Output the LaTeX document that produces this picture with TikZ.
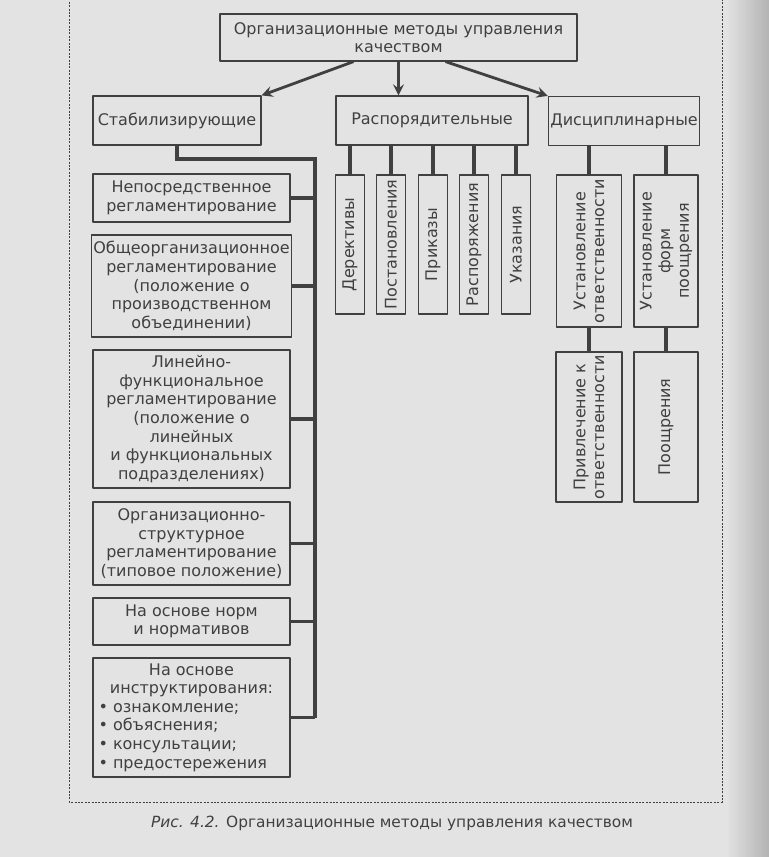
\documentclass[tikz,border=0pt]{standalone}
\usepackage{fontspec}
\setmainfont{DejaVu Sans}
\usetikzlibrary{calc,positioning}
\definecolor{paper}{gray}{0.89}
\definecolor{ink}{gray}{0.25}

\begin{document}
\begin{tikzpicture}[x=0.5pt, y=-0.5pt, font=\fontsize{8}{9.3}\selectfont, line join=round, >=stealth,
    box/.style={draw=ink, line width=0.6pt, text=ink, align=center, inner sep=1pt},
    lbox/.style={box, minimum width=98.5pt},
    vbox/.style={box, rotate=90},
    link/.style={draw=ink, line width=1.8pt, line join=miter},
    arr/.style={draw=ink, line width=1.4pt, ->}]
    \useasboundingbox (0,0) rectangle (769,857);
    \fill[paper] (0,0) rectangle (769,857);
    \shade[left color=paper, right color=gray!60] (726,0) rectangle (769,857);
    \draw[ink, line width=0.5pt, dash pattern=on 1pt off 0.7pt] (69,-5) |- (722,802) -- (722,-5);
    % top and second level
    \node[box, minimum width=178.5pt, minimum height=23.5pt] (top) at (398.5,37.5) {Организационные методы управления\\качеством};
    \node[box, minimum width=84pt, minimum height=24.5pt] (stab) at (177,120.5) {Стабилизирующие};
    \node[box, minimum width=96pt, minimum height=24.5pt] (rasp) at (432,120.5) {Распорядительные};
    \node[box, minimum width=74pt, minimum height=24.5pt] (disc) at (624,121) {Дисциплинарные};
    \draw[arr] ($(top.south)+(-45,0)$) -- (stab.north east);
    \draw[arr] (top) -- (top |- rasp.north);
    \draw[arr] ($(top.south)+(47,0)$) -- (disc.north west);
    % distributive
    \foreach \i/\x/\txt in {1/350/Дерективы, 2/391/Постановления, 3/433/Приказы, 4/474/Распоряжения, 5/516/Указания} {
        \node[vbox, minimum width=69.5pt, minimum height=14.5pt] (d\i) at (\x,244.5) {\txt};
        \draw[link] (d\i |- rasp.south) -- (d\i);
    }
    % disciplinary
    \node[vbox, minimum width=76pt, minimum height=32.5pt] (u1) at (589,251) {Установление\\ответственности};
    \node[vbox, minimum width=76pt, minimum height=32pt] (u2) at (666,251) {Установление\\форм\\поощрения};
    \node[vbox, minimum width=75pt, minimum height=33pt] (p1) at (589,427) {Привлечение к\\ответственности};
    \node[vbox, minimum width=75pt, minimum height=32pt] (p2) at (666,427) {Поощрения};
    \foreach \n in {u1,u2} \draw[link] (\n |- disc.south) -- (\n);
    \draw[link] (u1) -- (p1);
    \draw[link] (u2) -- (p2);
    % stabilizing
    \node[lbox, minimum height=24pt] (a) at (191.5,198) {Непосредственное\\регламентирование};
    \node[lbox, minimum height=51pt] (b) at (191.5,286) {Общеорганизационное\\регламентирование\\(положение о\\производственном\\объединении)};
    \node[lbox, minimum height=69pt] (c) at (191.5,419) {Линейно-\\функциональное\\регламентирование\\(положение о\\линейных\\и функциональных\\подразделениях)};
    \node[lbox, minimum height=41.5pt] (d) at (191.5,543.5) {Организационно-\\структурное\\регламентирование\\(типовое положение)};
    \node[lbox, minimum height=23.5pt] (e) at (191.5,621.5) {На основе норм\\и нормативов};
    \node[lbox, minimum height=59.5pt] (f) at (191.5,717.5) {На основе\\инструктирования:\\\makebox[93pt][l]{• ознакомление;}\\\makebox[93pt][l]{• объяснения;}\\\makebox[93pt][l]{• консультации;}\\\makebox[93pt][l]{• предостережения}};
    \coordinate (bend) at (315,159);
    \draw[link] (stab) -- (stab |- bend) -- (bend) -- (bend |- f);
    \foreach \n in {a,b,c,d,e,f} \draw[link] (\n) -- (\n -| bend);
    \node[text=ink, font=\fontsize{7.7}{9}\selectfont] (cap) at (392,823) {\textit{Рис. 4.2.} Организационные методы управления качеством};
\end{tikzpicture}
\end{document}
